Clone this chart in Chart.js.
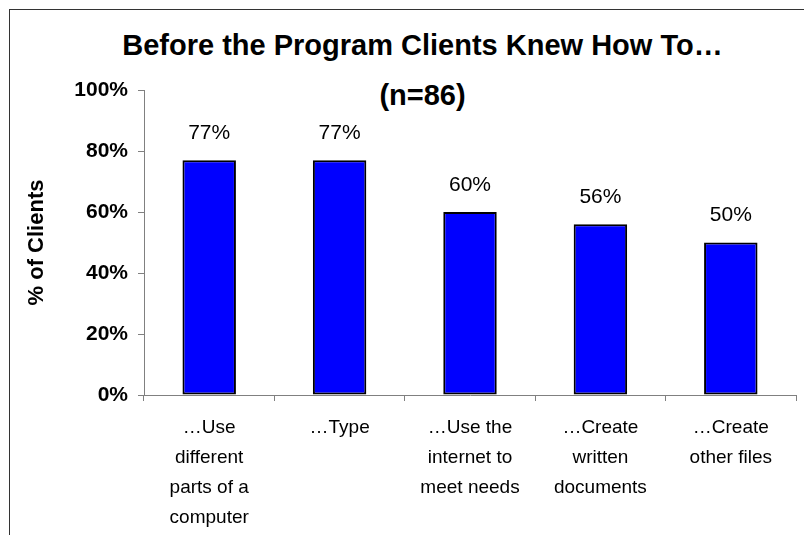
<!DOCTYPE html>
<html lang="en">
<head>
  <meta charset="UTF-8">
  <title>Before the Program Clients Knew How To…</title>
  <script src="https://cdn.jsdelivr.net/npm/chart.js"></script>
  <style>
    html, body { margin: 0; padding: 0; background: #fff; overflow: hidden; width: 804px; height: 535px; }
    body { position: relative; font-family: Arial, "Liberation Sans", sans-serif; }
    .frame { position: absolute; left: 9px; top: 9px; width: 825px; height: 600px; border: 1px solid #333; }
    .title { position: absolute; left: 0; top: 10px; width: 100%; text-align: center;
             font-weight: bold; font-size: 29px; line-height: 50px; color: #000; }
    canvas { position: absolute; left: 0; top: 0; }
  </style>
</head>
<body>
  <div class="frame">
    <div class="title">Before the Program Clients Knew How To…<br>(n=86)</div>
  </div>
  <canvas id="chart" width="804" height="535"></canvas>

  <script>
    // what clients could already do before the program, % of clients (n=86)
    const categories = [
      ["…Use", "different", "parts of a", "computer"],
      ["…Type"],
      ["…Use the", "internet to", "meet needs"],
      ["…Create", "written", "documents"],
      ["…Create", "other files"]
    ];
    const pctClients = [77, 77, 60, 56, 50];
    const yTicks = [0, 20, 40, 60, 80, 100];

    Chart.defaults.font.family = 'Arial, "Liberation Sans", sans-serif';
    Chart.defaults.color = '#000';

    // percentage above each bar
    const valueLabels = {
      id: 'valueLabels',
      afterDatasetsDraw(chart) {
        const ctx = chart.ctx;
        const meta = chart.getDatasetMeta(0);
        ctx.save();
        ctx.font = '21px Arial, "Liberation Sans", sans-serif';
        ctx.fillStyle = '#000';
        ctx.textAlign = 'center';
        ctx.textBaseline = 'middle';
        meta.data.forEach((bar, i) => {
          ctx.fillText(chart.data.datasets[0].data[i] + '%', bar.x, bar.y - 27);
        });
        ctx.restore();
      }
    };

    new Chart(document.getElementById('chart'), {
      type: 'bar',
      data: {
        labels: categories,
        datasets: [{
          data: pctClients,
          backgroundColor: '#0000FF',
          borderColor: '#000',
          borderWidth: 2,
          borderSkipped: false,
          barPercentage: 0.41,
          categoryPercentage: 1
        }]
      },
      options: {
        responsive: false,
        animation: false,
        layout: { padding: { left: 0, top: 90, right: 8, bottom: 0 } },
        plugins: {
          legend: { display: false },
          tooltip: { enabled: false }
        },
        scales: {
          x: {
            afterFit: s => { s.height = 140; },
            border: { color: '#808080', width: 1 },
            grid: { offset: true, drawOnChartArea: false, tickLength: 6, color: '#808080' },
            ticks: {
              font: { size: 19, lineHeight: 30 / 19 },
              padding: 12,
              maxRotation: 0,
              autoSkip: false
            }
          },
          y: {
            min: 0,
            max: 100,
            afterFit: s => { s.width = 144; },
            afterBuildTicks: s => { s.ticks = yTicks.map(v => ({ value: v })); },
            border: { color: '#808080', width: 1 },
            grid: { drawOnChartArea: false, tickLength: 6, color: '#808080' },
            ticks: {
              font: { size: 21, weight: 'bold' },
              padding: 10,
              callback: v => v + '%'
            },
            title: {
              display: true,
              text: '% of Clients',
              font: { size: 22, weight: 'bold' },
              padding: { top: 24, bottom: 0 }
            }
          }
        }
      },
      plugins: [valueLabels]
    });
  </script>
</body>
</html>
